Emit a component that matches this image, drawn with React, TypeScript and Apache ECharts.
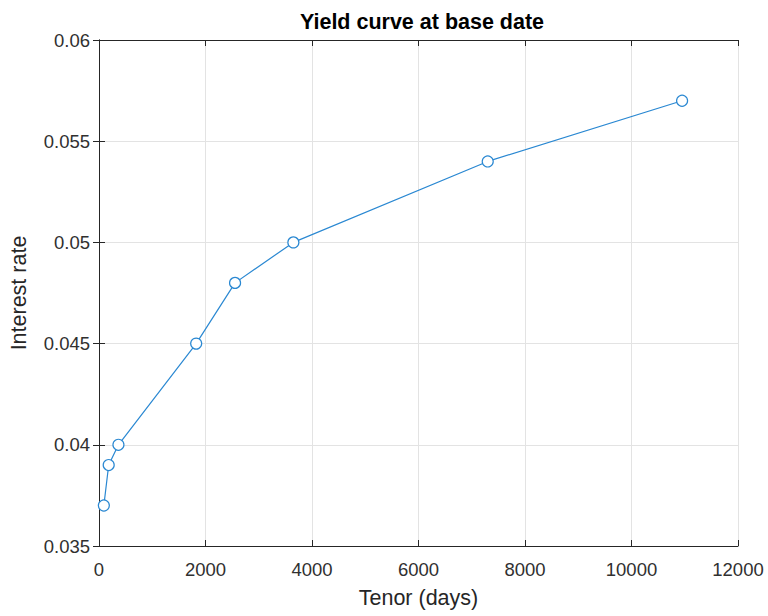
import React, { useEffect, useRef } from "react";
import * as echarts from "echarts";

const tenors = [91, 182, 365, 1825, 2555, 3650, 7300, 10950];
const rates = [0.037, 0.039, 0.04, 0.045, 0.048, 0.05, 0.054, 0.057];
const titleText = "Yield curve at base date";
const xName = "Tenor (days)";
const yName = "Interest rate";

export default function App() {
  const ref = useRef<HTMLDivElement>(null);
  useEffect(() => {
    const chart = echarts.init(ref.current!, null, { renderer: "svg" });
    const font = "'Liberation Sans', Arial, Helvetica, sans-serif";
    const axisLine = { show: true, lineStyle: { color: "#262626", width: 1 } };
    const tick = { show: true, inside: true, length: 6, lineStyle: { color: "#262626" } };
    const label = { color: "#303030", fontSize: 18.5, fontFamily: font };
    chart.setOption({
      animation: false,
      backgroundColor: "#ffffff",
      title: {
        text: titleText,
        left: 417,
        textAlign: "center",
        top: 6,
        textStyle: { fontFamily: font, fontSize: 21.5, fontWeight: "bold", color: "#000" },
      },
      grid: { left: 97, top: 40, width: 641, height: 506, containLabel: false },
      xAxis: [
        {
          type: "value",
          min: 0,
          max: 12000,
          interval: 2000,
          position: "bottom",
          name: xName,
          nameLocation: "middle",
          nameGap: 41,
          nameTextStyle: { fontFamily: font, fontSize: 21.5, color: "#262626" },
          axisLine,
          axisTick: tick,
          axisLabel: { ...label, margin: 14, formatter: (v: number) => String(v) },
          splitLine: { show: true, lineStyle: { color: "#e3e3e3", width: 1 } },
        },
        {
          type: "value",
          min: 0,
          max: 12000,
          interval: 2000,
          position: "top",
          axisLine,
          axisTick: tick,
          axisLabel: { show: false },
          splitLine: { show: false },
        },
      ],
      yAxis: [
        {
          type: "value",
          min: 0.035,
          max: 0.06,
          interval: 0.005,
          position: "left",
          name: yName,
          nameLocation: "middle",
          nameGap: 69,
          nameTextStyle: { fontFamily: font, fontSize: 21.5, color: "#262626" },
          axisLine,
          axisTick: tick,
          axisLabel: { ...label, margin: 9, formatter: (v: number) => String(+v.toFixed(4)) },
          splitLine: { show: true, lineStyle: { color: "#e3e3e3", width: 1 } },
        },
        {
          type: "value",
          min: 0.035,
          max: 0.06,
          interval: 0.005,
          position: "right",
          axisLine,
          axisTick: tick,
          axisLabel: { show: false },
          splitLine: { show: false },
        },
      ],
      series: [
        {
          type: "line",
          data: tenors.map((t, i) => [t, rates[i]]),
          symbol: "circle",
          symbolSize: 11,
          showAllSymbol: true,
          lineStyle: { color: "#2a88d2", width: 1.2 },
          itemStyle: { color: "#ffffff", borderColor: "#2a88d2", borderWidth: 1.2 },
          emphasis: { disabled: true },
        },
      ],
    });
    return () => chart.dispose();
  }, []);
  return (
    <div
      ref={ref}
      style={{ position: "fixed", left: 0, top: 0, width: 768, height: 616 }}
    />
  );
}
